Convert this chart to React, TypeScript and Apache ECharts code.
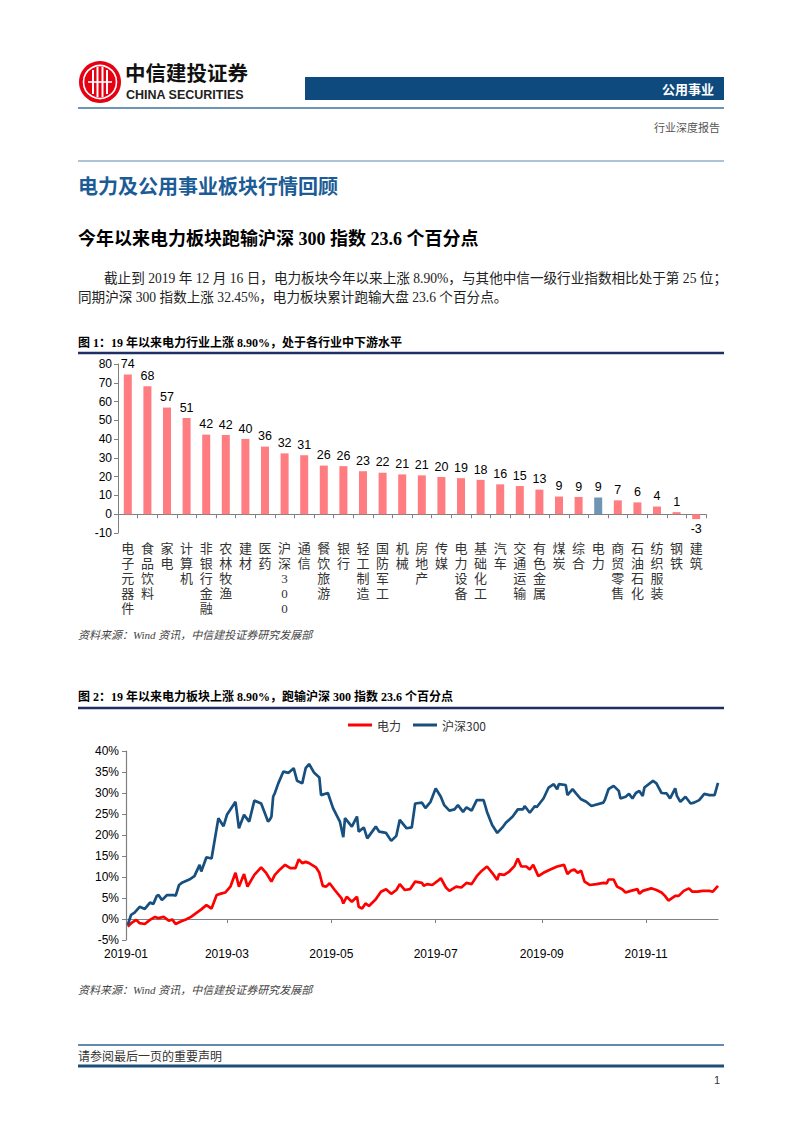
import React, { useEffect, useRef } from 'react';
import * as echarts from 'echarts';

// ---------- Figure 1: industry returns (%) ----------
const barCategories = [
  '电子元器件', '食品饮料', '家电', '计算机', '非银行金融', '农林牧渔', '建材', '医药', '沪深300', '通信',
  '餐饮旅游', '银行', '轻工制造', '国防军工', '机械', '房地产', '传媒', '电力设备', '基础化工', '汽车',
  '交通运输', '有色金属', '煤炭', '综合', '电力', '商贸零售', '石油石化', '纺织服装', '钢铁', '建筑',
];
const barValues = [
  74.4, 68.1, 56.8, 51.2, 42.4, 42.2, 40.1, 36.0, 32.4, 31.4,
  25.9, 25.6, 22.9, 22.1, 21.2, 20.7, 19.8, 19.2, 18.3, 15.9,
  15.0, 13.1, 9.4, 9.2, 8.9, 7.4, 6.3, 4.1, 1.1, -2.6,
];
const highlightCategory = '电力';

// ---------- Figure 2: cumulative return (%) ----------
const hs300Dates = [
  '2019-01-02', '2019-01-04', '2019-01-06', '2019-01-09', '2019-01-12', '2019-01-15', '2019-01-17', '2019-01-19', '2019-01-20', '2019-01-22',
  '2019-01-25', '2019-01-29', '2019-01-30', '2019-02-01', '2019-02-03', '2019-02-07', '2019-02-10', '2019-02-13', '2019-02-14', '2019-02-17',
  '2019-02-20', '2019-02-24', '2019-02-27', '2019-03-01', '2019-03-06', '2019-03-08', '2019-03-11', '2019-03-14', '2019-03-17', '2019-03-21',
  '2019-03-25', '2019-03-26', '2019-03-27', '2019-03-28', '2019-03-29', '2019-03-31', '2019-04-03', '2019-04-06', '2019-04-09', '2019-04-11',
  '2019-04-14', '2019-04-16', '2019-04-18', '2019-04-21', '2019-04-24', '2019-04-25', '2019-04-29', '2019-05-02', '2019-05-06', '2019-05-08',
  '2019-05-09', '2019-05-13', '2019-05-16', '2019-05-17', '2019-05-20', '2019-05-22', '2019-05-27', '2019-05-29', '2019-06-02', '2019-06-05',
  '2019-06-08', '2019-06-10', '2019-06-14', '2019-06-17', '2019-06-19', '2019-06-23', '2019-06-25', '2019-06-28', '2019-07-01', '2019-07-04',
  '2019-07-06', '2019-07-09', '2019-07-12', '2019-07-14', '2019-07-17', '2019-07-19', '2019-07-22', '2019-07-25', '2019-07-29', '2019-07-31',
  '2019-08-03', '2019-08-06', '2019-08-09', '2019-08-11', '2019-08-15', '2019-08-18', '2019-08-21', '2019-08-22', '2019-08-25', '2019-08-28',
  '2019-08-29', '2019-09-02', '2019-09-05', '2019-09-08', '2019-09-10', '2019-09-11', '2019-09-15', '2019-09-16', '2019-09-19', '2019-09-21',
  '2019-09-24', '2019-09-27', '2019-09-30', '2019-10-07', '2019-10-08', '2019-10-10', '2019-10-13', '2019-10-16', '2019-10-17', '2019-10-20',
  '2019-10-22', '2019-10-24', '2019-10-26', '2019-10-28', '2019-10-30', '2019-10-31', '2019-11-05', '2019-11-07', '2019-11-10', '2019-11-13',
  '2019-11-15', '2019-11-18', '2019-11-19', '2019-11-21', '2019-11-24', '2019-11-27', '2019-11-29', '2019-12-02', '2019-12-05', '2019-12-08',
  '2019-12-11', '2019-12-13',
];
const hs300Values = [
  -1.4, 1.0, 1.5, 2.9, 2.4, 3.9, 3.6, 5.5, 5.7, 4.5,
  5.7, 5.7, 5.5, 8.1, 8.7, 9.4, 10.2, 12.9, 11.3, 14.7,
  14.4, 24.0, 22.1, 24.8, 27.9, 21.6, 24.8, 23.2, 28.2, 27.5,
  23.2, 23.6, 24.4, 29.1, 30.0, 32.3, 35.1, 34.8, 35.9, 32.9,
  32.3, 35.9, 36.9, 34.8, 33.7, 29.5, 30.0, 26.4, 23.2, 19.5,
  24.0, 22.0, 24.4, 20.8, 21.8, 19.2, 22.0, 20.8, 20.5, 18.6,
  19.8, 23.6, 21.6, 21.8, 27.5, 27.7, 26.4, 27.9, 31.1, 29.1,
  27.1, 25.8, 26.1, 27.1, 25.5, 26.6, 25.8, 28.3, 28.3, 25.5,
  22.4, 20.5, 21.8, 22.9, 24.4, 26.1, 26.1, 26.9, 25.3, 26.9,
  26.6, 28.7, 31.3, 32.1, 30.9, 32.1, 31.9, 29.5, 30.9, 29.9,
  28.5, 27.9, 26.9, 27.7, 28.5, 30.9, 31.7, 30.5, 28.7, 29.1,
  29.8, 28.7, 30.0, 30.5, 29.3, 31.3, 32.9, 32.3, 30.0, 29.9,
  28.7, 31.1, 29.3, 27.9, 29.1, 27.5, 27.7, 28.3, 29.8, 29.5,
  29.5, 32.4,
];
const powerDates = [
  '2019-01-02', '2019-01-04', '2019-01-07', '2019-01-09', '2019-01-12', '2019-01-15', '2019-01-18', '2019-01-20', '2019-01-23', '2019-01-26',
  '2019-01-28', '2019-01-30', '2019-02-02', '2019-02-05', '2019-02-08', '2019-02-12', '2019-02-14', '2019-02-17', '2019-02-20', '2019-02-23',
  '2019-02-26', '2019-02-28', '2019-03-03', '2019-03-06', '2019-03-08', '2019-03-11', '2019-03-13', '2019-03-17', '2019-03-21', '2019-03-24',
  '2019-03-27', '2019-03-29', '2019-04-01', '2019-04-04', '2019-04-07', '2019-04-10', '2019-04-12', '2019-04-14', '2019-04-16', '2019-04-18',
  '2019-04-22', '2019-04-24', '2019-04-26', '2019-04-28', '2019-04-30', '2019-05-03', '2019-05-07', '2019-05-08', '2019-05-10', '2019-05-13',
  '2019-05-16', '2019-05-17', '2019-05-19', '2019-05-21', '2019-05-23', '2019-05-27', '2019-05-30', '2019-06-02', '2019-06-05', '2019-06-08',
  '2019-06-10', '2019-06-13', '2019-06-16', '2019-06-19', '2019-06-23', '2019-06-24', '2019-06-26', '2019-06-29', '2019-07-02', '2019-07-04',
  '2019-07-07', '2019-07-09', '2019-07-13', '2019-07-16', '2019-07-19', '2019-07-22', '2019-07-25', '2019-07-28', '2019-07-31', '2019-08-03',
  '2019-08-06', '2019-08-07', '2019-08-10', '2019-08-13', '2019-08-16', '2019-08-18', '2019-08-20', '2019-08-23', '2019-08-25', '2019-08-27',
  '2019-08-30', '2019-09-02', '2019-09-06', '2019-09-10', '2019-09-14', '2019-09-16', '2019-09-18', '2019-09-20', '2019-09-22', '2019-09-24',
  '2019-09-26', '2019-09-29', '2019-10-03', '2019-10-07', '2019-10-09', '2019-10-10', '2019-10-13', '2019-10-15', '2019-10-18', '2019-10-20',
  '2019-10-23', '2019-10-27', '2019-10-28', '2019-10-30', '2019-11-04', '2019-11-07', '2019-11-10', '2019-11-12', '2019-11-14', '2019-11-18',
  '2019-11-20', '2019-11-23', '2019-11-26', '2019-11-28', '2019-12-01', '2019-12-04', '2019-12-08', '2019-12-10', '2019-12-13',
];
const powerValues = [
  -1.8, -1.0, -0.2, -1.0, -1.2, -0.2, 0.5, 0.2, 0.5, -0.4,
  -0.1, -1.2, -0.6, -0.1, 0.5, 1.7, 2.3, 3.3, 2.5, 5.7,
  6.1, 6.3, 7.7, 11.0, 7.7, 10.7, 7.7, 10.5, 12.3, 10.9,
  8.9, 10.5, 11.8, 12.9, 12.1, 12.1, 14.2, 13.3, 13.6, 13.3,
  12.3, 11.0, 7.9, 7.7, 8.5, 6.9, 4.9, 3.7, 5.3, 4.1,
  5.3, 2.9, 2.5, 3.7, 3.1, 4.7, 6.5, 7.1, 6.0, 6.9,
  8.3, 6.9, 7.1, 8.9, 8.6, 7.9, 8.3, 8.1, 9.0, 9.7,
  7.5, 6.7, 7.7, 7.5, 8.6, 8.3, 10.2, 11.5, 12.5, 11.0,
  9.3, 10.7, 10.5, 11.3, 12.6, 14.4, 12.5, 12.5, 11.8, 12.9,
  10.2, 11.0, 11.8, 12.5, 12.9, 10.7, 11.5, 11.8, 11.0, 11.5,
  8.9, 8.1, 8.3, 8.6, 8.5, 9.4, 9.4, 7.7, 7.1, 6.3,
  6.7, 7.1, 6.0, 6.7, 7.3, 6.9, 6.3, 5.5, 4.4, 5.5,
  5.5, 6.7, 7.3, 6.5, 6.5, 6.7, 6.7, 6.5, 7.9,
];
const lineAxisMonths = ['2019-01', '2019-03', '2019-05', '2019-07', '2019-09', '2019-11'];
const lineAxisStart = '2019-01-01';
const lineAxisEnd = '2019-12-13';

const SERIF = "'Liberation Serif', 'Noto Sans CJK SC', serif";
const SANS = "'Liberation Sans', 'Noto Sans CJK SC', sans-serif";
const CJK = "'Noto Sans CJK SC', 'Liberation Sans', sans-serif";

function localTs(s: string) {
  const [y, m, d] = s.split('-').map(Number);
  return new Date(y, m - 1, d || 1).getTime();
}

function txt(text: string, x: number, y: number, o: any = {}) {
  const align = o.align || 'left';
  return {
    type: 'text',
    x,
    y,
    silent: true,
    scaleX: o.scaleX || 1,
    style: {
      text,
      fill: o.fill || '#000',
      fontSize: o.fontSize || 12,
      fontFamily: o.fontFamily || SERIF,
      fontWeight: o.fontWeight || 'normal',
      fontStyle: o.fontStyle || 'normal',
      align,
      textAlign: align,
      verticalAlign: 'middle',
      textVerticalAlign: 'middle',
    },
  };
}

function hline(x1: number, x2: number, y: number, stroke: string, lineWidth: number) {
  return { type: 'line', silent: true, shape: { x1, y1: y, x2, y2: y }, style: { stroke, lineWidth } };
}

export default function App() {
  const ref = useRef<HTMLDivElement>(null);

  useEffect(() => {
    if (!ref.current) return;
    const chart = echarts.init(ref.current, null, { renderer: 'svg', width: 802, height: 1133 });

    const monthTs = lineAxisMonths.map(localTs);

    const graphic: any[] = [
      // logo
      { type: 'circle', silent: true, shape: { cx: 100, cy: 82, r: 21 }, style: { fill: '#E60012' } },
      { type: 'circle', silent: true, shape: { cx: 100, cy: 82, r: 16.5 }, style: { fill: 'none', stroke: '#fff', lineWidth: 1.6 } },
      { type: 'line', silent: true, shape: { x1: 93, y1: 70, x2: 93, y2: 94 }, style: { stroke: '#fff', lineWidth: 2 } },
      { type: 'line', silent: true, shape: { x1: 97.5, y1: 67, x2: 97.5, y2: 97 }, style: { stroke: '#fff', lineWidth: 2 } },
      { type: 'line', silent: true, shape: { x1: 102.5, y1: 67, x2: 102.5, y2: 97 }, style: { stroke: '#fff', lineWidth: 2 } },
      { type: 'line', silent: true, shape: { x1: 107, y1: 70, x2: 107, y2: 94 }, style: { stroke: '#fff', lineWidth: 2 } },
      { type: 'line', silent: true, shape: { x1: 88, y1: 82, x2: 112, y2: 82 }, style: { stroke: '#fff', lineWidth: 1.6 } },
      txt('中信建投证券', 125, 72, { fontSize: 20.5, fontWeight: 'bold', fontFamily: CJK, fill: '#111' }),
      txt('CHINA SECURITIES', 126, 95, { fontSize: 12.5, fontWeight: 'bold', fontFamily: SANS, fill: '#222' }),
      // header bar
      { type: 'rect', silent: true, shape: { x: 305, y: 77, width: 419, height: 23 }, style: { fill: '#0E4A7E' } },
      txt('公用事业', 714, 88.5, { align: 'right', fontSize: 13, fontWeight: 'bold', fontFamily: CJK, fill: '#fff' }),
      hline(78, 724, 108, '#3D6F9C', 1.5),
      txt('行业深度报告', 720, 127, { align: 'right', fontSize: 11, fontFamily: CJK, fill: '#555' }),
      hline(78, 724, 161, '#5E86AC', 1),
      // headings
      txt('电力及公用事业板块行情回顾', 78, 185, { fontSize: 20, fontWeight: 'bold', fontFamily: CJK, fill: '#1C5C96' }),
      txt('今年以来电力板块跑输沪深 300 指数 23.6 个百分点', 78, 239, { fontSize: 18, fontWeight: 'bold', fontFamily: SERIF, fill: '#000' }),
      txt('截止到 2019 年 12 月 16 日，电力板块今年以来上涨 8.90%，与其他中信一级行业指数相比处于第 25 位；', 104, 278, { fontSize: 13.6, fill: '#222' }),
      txt('同期沪深 300 指数上涨 32.45%，电力板块累计跑输大盘 23.6 个百分点。', 78, 297, { fontSize: 13.6, fill: '#222' }),
      // figure 1 caption
      txt('图 1：19 年以来电力行业上涨 8.90%，处于各行业中下游水平', 78, 343, { fontSize: 12, fontWeight: 'bold', fill: '#000' }),
      hline(78, 724, 353, '#1F2F63', 2.5),
      txt('资料来源：Wind 资讯，中信建投证券研究发展部', 78, 635, { fontSize: 11, fontStyle: 'italic', fill: '#444' }),
      // figure 2 caption
      txt('图 2：19 年以来电力板块上涨 8.90%，跑输沪深 300 指数 23.6 个百分点', 78, 697, { fontSize: 12, fontWeight: 'bold', fill: '#000' }),
      hline(78, 724, 708, '#1F2F63', 2.5),
      txt('资料来源：Wind 资讯，中信建投证券研究发展部', 78, 990, { fontSize: 11, fontStyle: 'italic', fill: '#444' }),
      // footer
      hline(78, 724, 1045, '#2D6596', 1.5),
      txt('请参阅最后一页的重要声明', 78, 1056.5, { fontSize: 12, fontFamily: SERIF, fill: '#333' }),
      hline(78, 724, 1066, '#1F4E79', 3),
      txt('1', 720, 1080, { align: 'right', fontSize: 11, fontFamily: SANS, fill: '#333' }),
    ];

    const axisColor = '#808080';

    const option: any = {
      animation: false,
      backgroundColor: '#ffffff',
      textStyle: { fontFamily: SANS },
      graphic,
      legend: {
        data: ['电力', '沪深300'],
        left: 343,
        top: 714,
        icon: 'rect',
        itemWidth: 24,
        itemHeight: 3,
        itemGap: 12,
        textStyle: { fontSize: 12, color: '#333', fontFamily: CJK },
      },
      grid: [
        { left: 118, right: 96, top: 364, bottom: 600 },
        { left: 126, right: 84, top: 751, bottom: 193 },
      ],
      xAxis: [
        {
          type: 'category',
          gridIndex: 0,
          data: barCategories,
          axisLine: { onZero: true, lineStyle: { color: axisColor, width: 1 } },
          axisTick: { show: true, interval: 0, length: 4, lineStyle: { color: axisColor } },
          axisLabel: {
            interval: 0,
            margin: 8,
            fontSize: 13,
            lineHeight: 15,
            color: '#333',
            fontFamily: SERIF,
            formatter: (v: string) => v.split('').join('\n'),
          },
          splitLine: { show: false },
        },
        {
          type: 'value',
          gridIndex: 1,
          min: localTs(lineAxisStart),
          max: localTs(lineAxisEnd),
          axisLine: { onZero: true, lineStyle: { color: axisColor, width: 1.2 } },
          axisTick: { show: true, length: 4, customValues: monthTs, lineStyle: { color: axisColor } },
          axisLabel: {
            customValues: monthTs,
            margin: 8,
            fontSize: 12,
            color: '#000',
            fontFamily: SANS,
            formatter: (val: number) => {
              const d = new Date(val);
              return `${d.getFullYear()}-${String(d.getMonth() + 1).padStart(2, '0')}`;
            },
          },
          splitLine: { show: false },
        },
      ],
      yAxis: [
        {
          type: 'value',
          gridIndex: 0,
          min: -10,
          max: 80,
          interval: 10,
          axisLine: { show: true, lineStyle: { color: axisColor } },
          axisTick: { show: true, length: 4, lineStyle: { color: axisColor } },
          axisLabel: { fontSize: 12, color: '#000', margin: 6, fontFamily: SANS },
          splitLine: { show: false },
        },
        {
          type: 'value',
          gridIndex: 1,
          min: -5,
          max: 40,
          interval: 5,
          axisLine: { show: true, lineStyle: { color: axisColor, width: 1.2 } },
          axisTick: { show: true, length: 4, lineStyle: { color: axisColor } },
          axisLabel: { fontSize: 12, color: '#000', margin: 7, fontFamily: SANS, formatter: '{value}%' },
          splitLine: { show: false },
        },
      ],
      series: [
        {
          type: 'bar',
          name: '行业涨跌幅',
          xAxisIndex: 0,
          yAxisIndex: 0,
          barWidth: 8,
          data: barValues.map((v, i) => ({
            value: v,
            itemStyle: { color: barCategories[i] === highlightCategory ? '#7094B4' : '#FF7C80' },
            label: { position: v < 0 ? 'bottom' : 'top' },
          })),
          label: {
            show: true,
            fontSize: 12.5,
            color: '#000',
            fontFamily: SANS,
            distance: 4,
            formatter: (p: any) => String(Math.round(p.value)),
          },
        },
        {
          type: 'line',
          name: '电力',
          xAxisIndex: 1,
          yAxisIndex: 1,
          data: powerDates.map((d, i) => [localTs(d), powerValues[i]]),
          symbol: 'none',
          showSymbol: false,
          lineStyle: { color: '#FF0000', width: 2.7 },
          itemStyle: { color: '#FF0000' },
        },
        {
          type: 'line',
          name: '沪深300',
          xAxisIndex: 1,
          yAxisIndex: 1,
          data: hs300Dates.map((d, i) => [localTs(d), hs300Values[i]]),
          symbol: 'none',
          showSymbol: false,
          lineStyle: { color: '#17507F', width: 2.7 },
          itemStyle: { color: '#17507F' },
        },
      ],
    };

    chart.setOption(option);
    return () => chart.dispose();
  }, []);

  return (
    <div
      ref={ref}
      style={{ position: 'absolute', left: 0, top: 0, width: 802, height: 1133, background: '#fff' }}
    />
  );
}
